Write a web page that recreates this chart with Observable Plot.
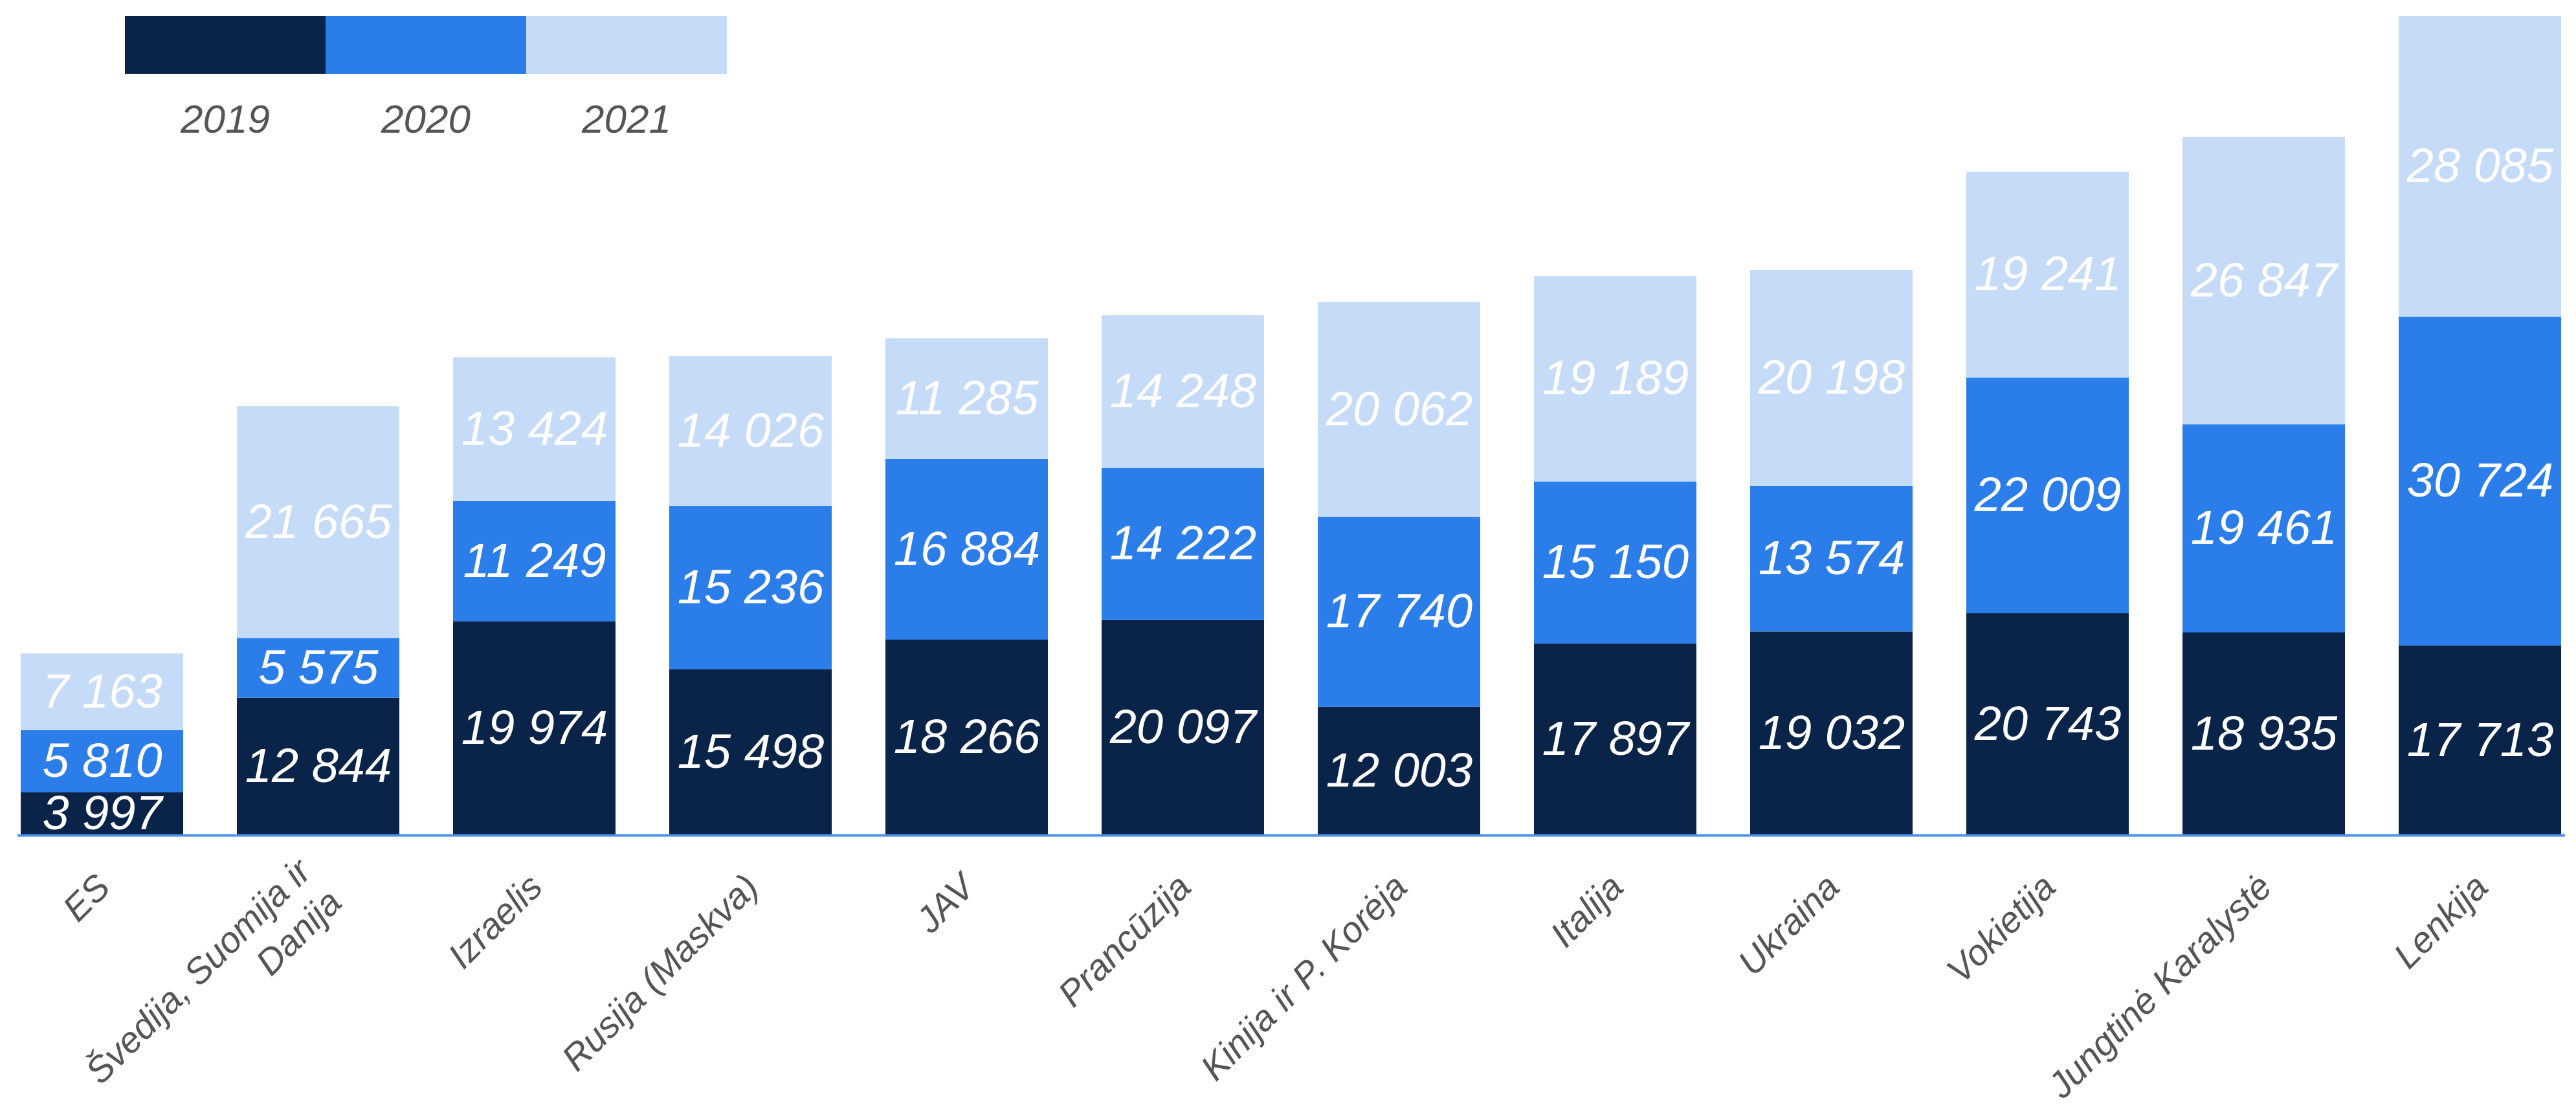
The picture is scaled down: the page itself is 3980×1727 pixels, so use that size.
<!DOCTYPE html>
<html>
<head>
<meta charset="utf-8">
<script src="https://cdn.jsdelivr.net/npm/d3@7"></script>
<script src="https://cdn.jsdelivr.net/npm/@observablehq/plot@0.6"></script>
<style>
  html, body { margin: 0; padding: 0; background: #fff; }
  #wrap { position: relative; width: 3980px; height: 1727px; }
  #legend { position: absolute; left: 193px; top: 25px; font-family: "Liberation Sans", Arial, sans-serif; }
  #legend .row { display: flex; }
  #legend .sw { width: 310px; height: 89px; }
  #legend .lab { width: 310px; text-align: center; font-style: italic; font-size: 62px; color: #555; margin-top: 34px; }
  svg g[aria-label="x-axis tick label"] text { fill: #555; }
</style>
</head>
<body>
<div id="wrap">
  <div id="chart"></div>
  <div id="legend"></div>
</div>
<script>
const countries = [
  "ES",
  "Švedija, Suomija ir\nDanija",
  "Izraelis",
  "Rusija (Maskva)",
  "JAV",
  "Prancūzija",
  "Kinija ir P. Korėja",
  "Italija",
  "Ukraina",
  "Vokietija",
  "Jungtinė Karalystė",
  "Lenkija"
];
const years = ["2019", "2020", "2021"];
const v2019 = [3997, 12844, 19974, 15498, 18266, 20097, 12003, 17897, 19032, 20743, 18935, 17713];
const v2020 = [5810, 5575, 11249, 15236, 16884, 14222, 17740, 15150, 13574, 22009, 19461, 30724];
const v2021 = [7163, 21665, 13424, 14026, 11285, 14248, 20062, 19189, 20198, 19241, 26847, 28085];
const colors = ["#0a2449", "#2b7de9", "#c6dbf7"];

const series = [v2019, v2020, v2021];
const data = countries.flatMap((c, i) =>
  years.map((y, j) => ({ country: c, year: y, value: series[j][i] }))
);
const totals = countries.map((c, i) => v2019[i] + v2020[i] + v2021[i]);
const fmt = v => d3.format(",")(v).replace(/,/g, " ");

const chart = Plot.plot({
  width: 3980,
  height: 1727,
  marginTop: 25,
  marginBottom: 437,
  marginLeft: 27,
  marginRight: 17,
  style: { fontFamily: "Liberation Sans, Arial, sans-serif", background: "transparent" },
  x: { domain: countries, paddingInner: 0.248, paddingOuter: 0, axis: null },
  y: { domain: [0, d3.max(totals)], axis: null },
  color: { domain: years, range: colors },
  marks: [
    Plot.barY(data, Plot.stackY({ x: "country", y: "value", fill: "year" })),
    Plot.ruleY([0], { stroke: "#4a90ee", strokeWidth: 4 }),
    Plot.text(data, Plot.stackY({
      x: "country", y: "value", text: d => fmt(d.value),
      fill: "white", fontSize: 74, fontStyle: "italic"
    })),
    Plot.axisX({
      tickSize: 0, tickPadding: 68, tickRotate: -45, label: null,
      fontSize: 56, fontStyle: "italic", fill: "#555", lineHeight: 1.2
    })
  ]
});
document.getElementById("chart").appendChild(chart);

const legend = document.getElementById("legend");
const row1 = document.createElement("div"); row1.className = "row";
const row2 = document.createElement("div"); row2.className = "row";
years.forEach((y, j) => {
  const s = document.createElement("div"); s.className = "sw"; s.style.background = colors[j]; row1.appendChild(s);
  const l = document.createElement("div"); l.className = "lab"; l.textContent = y; row2.appendChild(l);
});
legend.appendChild(row1); legend.appendChild(row2);
</script>
</body>
</html>
